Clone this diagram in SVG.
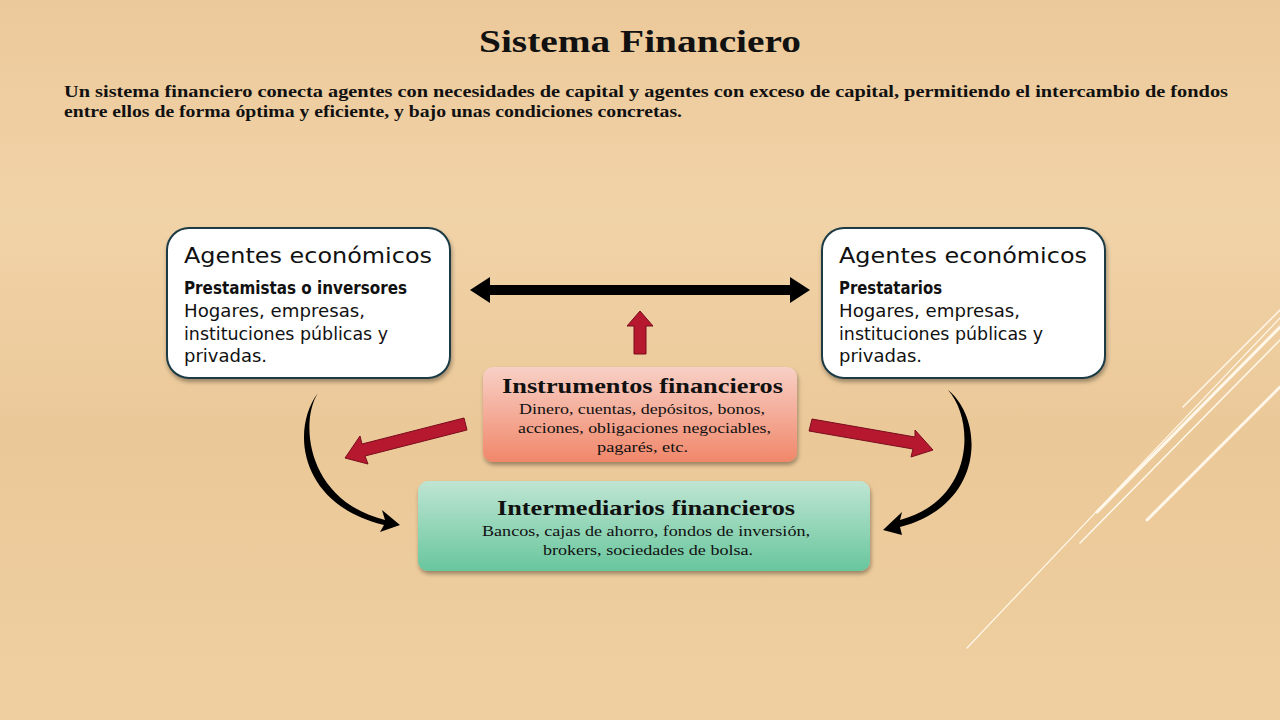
<svg xmlns="http://www.w3.org/2000/svg" width="1280" height="720" viewBox="0 0 1280 720">
<defs>
<linearGradient id="bg" x1="0" y1="0" x2="0" y2="1">
<stop offset="0" stop-color="#ecc99a"/><stop offset="0.3" stop-color="#f1d3a8"/><stop offset="0.6" stop-color="#ebc898"/><stop offset="1" stop-color="#efcfa0"/>
</linearGradient>
<linearGradient id="pink" x1="0" y1="0" x2="0" y2="1"><stop offset="0" stop-color="#f8d0c6"/><stop offset="1" stop-color="#f0876a"/></linearGradient>
<linearGradient id="green" x1="0" y1="0" x2="0" y2="1"><stop offset="0" stop-color="#bfe5d3"/><stop offset="1" stop-color="#68c69d"/></linearGradient>
<filter id="sh" x="-10%" y="-10%" width="130%" height="140%"><feDropShadow dx="1" dy="3" stdDeviation="2" flood-opacity="0.35"/></filter>
<style>
.title{font-family:"Liberation Serif",serif;font-weight:bold;font-size:31px;fill:#111}
.intro{font-family:"Liberation Serif",serif;font-weight:bold;font-size:16px;fill:#111}
.agbox{fill:#fff;stroke:#1d3b45;stroke-width:2}
.h{font-family:"DejaVu Sans",sans-serif;font-size:22px;fill:#111}
.b{font-family:"DejaVu Sans",sans-serif;font-size:18px;fill:#111}
.bb{font-family:"DejaVu Sans",sans-serif;font-size:17px;font-weight:bold;fill:#111}
.sh{font-family:"Liberation Serif",serif;font-weight:bold;font-size:22px;fill:#111}
.st{font-family:"Liberation Serif",serif;font-size:15.5px;fill:#111}
.red{fill:#b5182f;stroke:#7a0d1d;stroke-width:1}
.deco{stroke:#fff8ea;fill:none;stroke-linecap:round}
</style>
</defs>
<rect width="1280" height="720" fill="url(#bg)"/>
<g class="deco">
<line x1="1183" y1="407" x2="1280" y2="310" stroke-width="1.5"/>
<line x1="1097" y1="512" x2="1280" y2="327" stroke-width="3"/>
<line x1="1080" y1="543" x2="1280" y2="340" stroke-width="1.5"/>
<line x1="1147" y1="520" x2="1280" y2="387" stroke-width="3"/>
<line x1="967" y1="648" x2="1280" y2="318" stroke-width="1.2"/>
</g>
<text class="title" x="479" y="52" textLength="322" lengthAdjust="spacingAndGlyphs">Sistema Financiero</text>
<text class="intro" x="64" y="97" textLength="1164" lengthAdjust="spacingAndGlyphs">Un sistema financiero conecta agentes con necesidades de capital y agentes con exceso de capital, permitiendo el intercambio de fondos</text>
<text class="intro" x="64" y="117" textLength="618" lengthAdjust="spacingAndGlyphs">entre ellos de forma óptima y eficiente, y bajo unas condiciones concretas.</text>
<g id="connectors">
<polygon fill="#000" points="470,290 490,277 490,285 790,285 790,277 810,290 790,303 790,295 490,295 490,303"/>
<polygon class="red" points="640,311 653,326 646,326 646,354 634,354 634,326 627,326"/>
<polygon class="red" points="345,458 360,436 362,444 464,418 467,430 365,456 368,464"/>
<polygon class="red" points="933,450 915,430 915,437 812,419 809,431 913,449 911,457"/>
<path fill="#000" d="M318,393 C300,420 305,500 385,520 L382,510 L400,525 L380,532 L384,525 C300,505 290,430 318,393 Z"/>
<path fill="#000" d="M948,390 C975,420 975,500 900,520 L902,512 L883,530 L902,535 L900,527 C985,505 985,420 948,390 Z"/>
</g>
<g id="lender">
<rect class="agbox" x="167" y="228" width="283" height="150" rx="22" filter="url(#sh)"/>
<text class="h" x="184" y="263" textLength="248" lengthAdjust="spacingAndGlyphs">Agentes económicos</text>
<text class="bb" x="184" y="294" textLength="223" lengthAdjust="spacingAndGlyphs">Prestamistas o inversores</text>
<text class="b" x="184" y="317" textLength="181" lengthAdjust="spacingAndGlyphs">Hogares, empresas,</text>
<text class="b" x="184" y="340" textLength="204" lengthAdjust="spacingAndGlyphs">instituciones públicas y</text>
<text class="b" x="184" y="362" textLength="83" lengthAdjust="spacingAndGlyphs">privadas.</text>
</g>
<g id="borrower">
<rect class="agbox" x="822" y="228" width="283" height="150" rx="22" filter="url(#sh)"/>
<text class="h" x="839" y="263" textLength="248" lengthAdjust="spacingAndGlyphs">Agentes económicos</text>
<text class="bb" x="839" y="294" textLength="103" lengthAdjust="spacingAndGlyphs">Prestatarios</text>
<text class="b" x="839" y="317" textLength="181" lengthAdjust="spacingAndGlyphs">Hogares, empresas,</text>
<text class="b" x="839" y="340" textLength="204" lengthAdjust="spacingAndGlyphs">instituciones públicas y</text>
<text class="b" x="839" y="362" textLength="83" lengthAdjust="spacingAndGlyphs">privadas.</text>
</g>
<g id="instrumentos">
<rect x="483" y="367" width="314" height="95" rx="10" fill="url(#pink)" filter="url(#sh)"/>
<text class="sh" x="502" y="393" textLength="281" lengthAdjust="spacingAndGlyphs">Instrumentos financieros</text>
<text class="st" x="519" y="414" textLength="246" lengthAdjust="spacingAndGlyphs">Dinero, cuentas, depósitos, bonos,</text>
<text class="st" x="518" y="433" textLength="253" lengthAdjust="spacingAndGlyphs">acciones, obligaciones negociables,</text>
<text class="st" x="597" y="452" textLength="91" lengthAdjust="spacingAndGlyphs">pagarés, etc.</text>
</g>
<g id="intermediarios">
<rect x="418" y="481" width="452" height="90" rx="10" fill="url(#green)" filter="url(#sh)"/>
<text class="sh" x="497" y="515" textLength="298" lengthAdjust="spacingAndGlyphs">Intermediarios financieros</text>
<text class="st" x="482" y="536" textLength="328" lengthAdjust="spacingAndGlyphs">Bancos, cajas de ahorro, fondos de inversión,</text>
<text class="st" x="543" y="555" textLength="210" lengthAdjust="spacingAndGlyphs">brokers, sociedades de bolsa.</text>
</g>
</svg>
